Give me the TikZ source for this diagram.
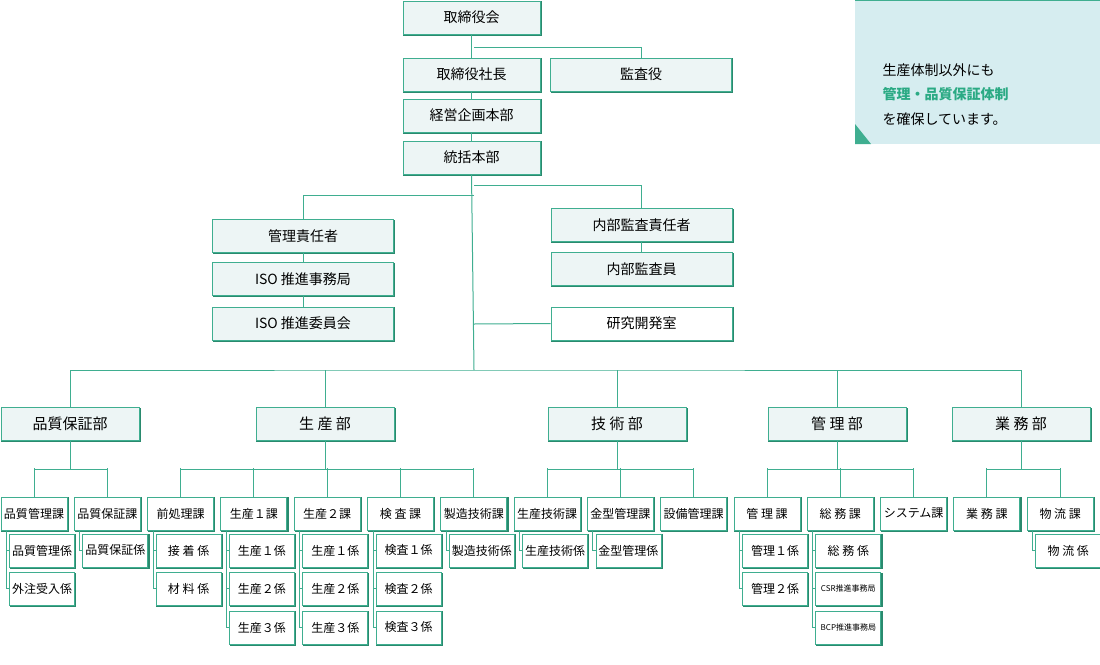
\documentclass[tikz,border=0pt]{standalone}
\usetikzlibrary{calc}
\usepackage{fontspec}
\setmainfont{Noto Sans CJK JP}
\begin{document}
\definecolor{tl}{HTML}{3FAE90}
\definecolor{sh}{HTML}{2A8A6E}
\definecolor{lf}{HTML}{EDF5F5}
\definecolor{nb}{HTML}{D6EDF0}
\definecolor{gt}{HTML}{2BAA84}
\begin{tikzpicture}[x=1pt,y=-1pt,
  base/.style={draw=tl,line width=0.9pt,inner sep=0pt,
    preaction={draw=sh,line width=1.4pt,transform canvas={shift={(1pt,-1pt)}}}},
  big/.style={base,fill=lf,minimum width=137pt,minimum height=33pt,font=\fontsize{14}{14}\selectfont},
  wide/.style={base,fill=lf,minimum width=181pt,minimum height=33pt,font=\fontsize{14}{14}\selectfont},
  dep/.style={base,fill=lf,minimum width=138pt,minimum height=33pt,font=\fontsize{15}{15}\selectfont},
  sec/.style={base,fill=white,minimum width=66pt,minimum height=33pt,font=\fontsize{12}{12}\selectfont},
  kak/.style={base,fill=white,minimum width=65pt,minimum height=33pt,font=\fontsize{12}{12}\selectfont},
  ln/.style={draw=tl,line width=1pt}]
\useasboundingbox (0,0) rectangle (1100,664);
% note box
\fill[nb] (855,0) rectangle (1100,144);
\draw[tl,line width=1pt] (855,0.5) -- (1100,0.5);
\fill[tl] (855,124) -- (855,144) -- (871,144) -- cycle;
\node[anchor=west,font=\fontsize{14}{14}\selectfont] (n1) at (879,70) {生産体制以外にも};
\node[anchor=west,font=\bfseries\fontsize{14}{14}\selectfont,text=gt] (n2) at (879,94) {管理・品質保証体制};
\node[anchor=west,font=\fontsize{14}{14}\selectfont] (n3) at (879,119) {を確保しています。};
% top
\node[big] (a) at (471.5,17.5) {取締役会};
\node[big] (b) at (471.5,74.5) {取締役社長};
\node[wide] (c) at (641,74.5) {監査役};
\node[big] (d) at (471.5,115.5) {経営企画本部};
\node[big] (e) at (471.5,157.5) {統括本部};
\node[wide] (f) at (303,236) {管理責任者};
\node[wide] (g) at (303,279) {ISO 推進事務局};
\node[wide] (h) at (303,323.5) {ISO 推進委員会};
\node[wide] (i) at (641.5,225) {内部監査責任者};
\node[wide] (j) at (641.5,269) {内部監査員};
\node[wide,fill=white] (k) at (641.5,323.5) {研究開発室};
\coordinate (t1) at (474,47);
\coordinate (t2) at (474,185);
\coordinate (t3) at (474,195);
\coordinate (t4) at (474,324);
\coordinate (t5) at (474,370);
\draw[ln] (a.south) -- (b.north);
\draw[ln] (t1) -| (c.north);
\draw[ln] (b) -- (d) (d) -- (e);
\draw[ln] (e.south) -- (t5);
\draw[ln] (t2) -| (i.north);
\draw[ln] (t3) -| (f.north);
\draw[ln] (f) -- (g) (g) -- (h) (i) -- (j);
\draw[ln] (t4) -- (k.west);
% departments
\node[dep] (D0) at (70,424) {品質保証部};
\node[dep] (D1) at (325,424) {生\ 産\ 部};
\node[dep] (D2) at (617,424) {技\ 術\ 部};
\node[dep] (D3) at (837,424) {管\ 理\ 部};
\node[dep] (D4) at (1021,424) {業\ 務\ 部};
\draw[ln] (D0.north) |- (t5) -| (D4.north);
\foreach \n in {1,2,3}{\draw[ln] (D\n.north) -- (D\n.north |- t5);}
% sections
\foreach \t [count=\i from 0] in {品質管理課,品質保証課,前処理課,生産１課,生産２課,検\ 査\ 課,製造技術課,生産技術課,金型管理課,設備管理課,管\ 理\ 課,総\ 務\ 課,システム課,業\ 務\ 課,物\ 流\ 課}{
  \node[sec] (S\i) at ({34+73.3*\i},513.5) {\t};}
\foreach \dd/\fs/\ls in {0/0/1,1/2/6,2/7/9,3/10/12,4/13/14}{
  \coordinate (b\dd) at ($(D\dd.south)+(0,29)$);
  \draw[ln] (D\dd.south) -- (b\dd);
  \draw[ln] (S\fs.north) |- (b\dd) -| (S\ls.north);
}
\foreach \s in {0,...,14}{\draw[ln] (S\s.north) -- ++(0,-29);}
% kakari
\newcommand\kk[4]{% sec, row, unused, text
  \node[kak] (K#1#2) at ($(S#1.south west)+(41.5,{20+(#2-1)*38.5})$) {#4};
  \draw[ln] ($(S#1.south west)+(6,0)$) |- (K#1#2.west);}
\kk{0}{1}{}{品質管理係}\kk{0}{2}{}{外注受入係}
\kk{1}{1}{}{品質保証係}
\kk{2}{1}{}{接\ 着\ 係}\kk{2}{2}{}{材\ 料\ 係}
\kk{3}{1}{}{生産１係}\kk{3}{2}{}{生産２係}\kk{3}{3}{}{生産３係}
\kk{4}{1}{}{生産１係}\kk{4}{2}{}{生産２係}\kk{4}{3}{}{生産３係}
\kk{5}{1}{}{検査１係}\kk{5}{2}{}{検査２係}\kk{5}{3}{}{検査３係}
\kk{6}{1}{}{製造技術係}
\kk{7}{1}{}{生産技術係}
\kk{8}{1}{}{金型管理係}
\kk{10}{1}{}{管理１係}\kk{10}{2}{}{管理２係}
\kk{11}{1}{}{総\ 務\ 係}\kk{11}{2}{}{{\fontsize{8}{8}\selectfont CSR推進事務局}}\kk{11}{3}{}{{\fontsize{8}{8}\selectfont BCP推進事務局}}
\kk{14}{1}{}{物\ 流\ 係}
\end{tikzpicture}
\end{document}
